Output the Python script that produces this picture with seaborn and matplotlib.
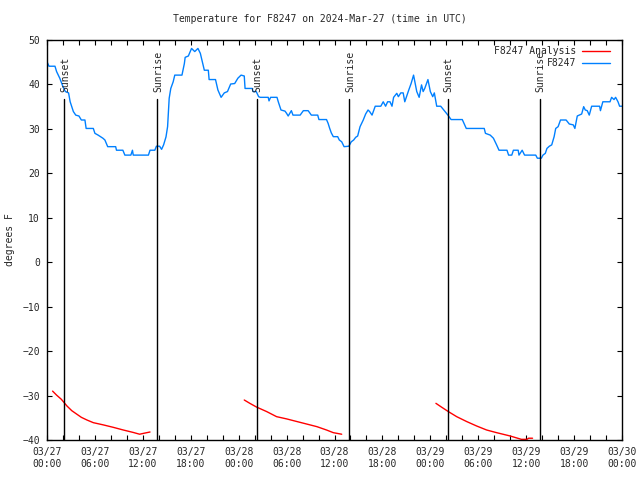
import numpy as np
import pandas as pd
import seaborn as sns
import matplotlib
matplotlib.use("Agg")
import matplotlib.pyplot as plt

# hours since 2024-03-27 00:00 UTC
obs_hours = [0, 0.25, 1.0, 1.2, 1.6, 2.0, 2.3, 2.7, 2.9, 3.3, 3.6, 4.0, 4.3, 4.75, 4.9, 5.8,
             6.0, 6.4, 7.0, 7.25, 7.6, 8.6, 8.7, 9.5, 9.75, 10.5, 10.7, 10.8, 12.7, 12.9,
             13.5, 13.7, 14.1, 14.35, 14.6, 14.9, 15.1, 15.3, 15.5, 15.8, 16.0, 16.9, 17.2,
             17.3, 17.7, 18.1, 18.5, 18.9, 19.2, 19.4, 19.7, 20.2, 20.3, 21.1, 21.4, 21.8,
             22.2, 22.6, 23.0, 23.5, 23.9, 24.3, 24.7, 24.8, 25.7, 25.8, 26.2, 26.5, 26.7,
             27.7, 27.8, 28.0, 28.8, 28.96, 29.3, 29.8, 30.0, 30.2, 30.4, 30.6, 30.8, 31.7,
             32.1, 32.7, 33.1, 33.9, 34.05, 35.0, 35.2, 35.4, 35.6, 35.85, 36.4, 36.6, 36.9,
             37.2, 37.8, 38.1, 38.4, 38.65, 38.9, 39.2, 39.4, 39.6, 39.9, 40.2, 40.4, 40.7,
             41.1, 41.8, 42.1, 42.4, 42.65, 42.95, 43.2, 43.4, 43.8, 44.0, 44.3, 44.6, 44.8,
             45.3, 45.6, 45.9, 46.1, 46.3, 46.6, 46.9, 47.1, 47.3, 47.7, 48.0, 48.3, 48.5,
             48.8, 49.3, 49.75, 50.2, 50.6, 52.0, 52.5, 54.75, 54.9, 55.5, 55.9, 56.3, 56.6,
             57.6, 57.8, 58.2, 58.4, 59.0, 59.1, 59.5, 59.8, 61.2, 61.4, 61.9, 62.1, 62.4,
             62.6, 62.9, 63.2, 63.5, 63.7, 64.0, 64.3, 65.0, 65.4, 65.9, 66.1, 66.4, 66.95,
             67.2, 67.4, 67.65, 67.9, 68.2, 69.2, 69.3, 69.6, 70.5, 70.7, 71.0, 71.2, 71.5,
             71.7, 72.0]
obs_temp = [45.1, 44.1, 44.1, 42.9, 41.4, 39.5, 38.4, 38.1, 36.1, 33.9, 33.1, 32.9, 32.0, 32.0,
            30.1, 30.1, 29.0, 28.6, 27.9, 27.5, 26.0, 26.0, 25.2, 25.2, 24.1, 24.1, 25.2, 24.1,
            24.1, 25.2, 25.2, 26.1, 26.1, 25.4, 26.4, 28.2, 30.5, 36.9, 39.1, 40.6, 42.1, 42.1,
            44.7, 46.1, 46.4, 48.1, 47.4, 48.1, 47.0, 45.5, 43.2, 43.2, 41.1, 41.1, 38.75, 37.1,
            38.1, 38.4, 40.1, 40.2, 41.4, 42.1, 41.9, 39.1, 39.1, 38.4, 38.4, 37.25, 37.1, 37.1,
            36.3, 37.1, 37.1, 36.1, 34.25, 34.0, 33.5, 32.9, 33.5, 34.1, 33.1, 33.1, 34.1, 34.1,
            33.1, 33.1, 32.1, 32.1, 31.25, 30.1, 29.1, 28.25, 28.25, 27.5, 27.1, 26.0, 26.1,
            27.1, 27.5, 28.1, 28.4, 30.5, 31.25, 32.0, 33.35, 34.25, 33.9, 33.1, 35.1, 35.1,
            36.1, 35.1, 36.1, 36.1, 35.1, 37.1, 38.0, 37.25, 38.1, 38.1, 36.1, 38.75, 40.25,
            42.1, 40.25, 38.4, 37.1, 39.9, 38.4, 39.1, 41.1, 38.4, 37.25, 38.1, 35.1, 35.1,
            34.1, 33.1, 32.1, 32.1, 30.1, 30.1, 29.0, 28.6, 27.9, 26.4, 25.2, 25.2, 24.1, 24.1,
            25.2, 25.2, 24.1, 25.2, 24.1, 24.1, 23.4, 23.4, 24.1, 24.5, 25.6, 26.1, 26.4, 28.25,
            30.1, 30.5, 32.0, 32.0, 31.1, 30.9, 30.1, 32.9, 33.35, 35.0, 34.25, 34.1, 33.1,
            35.1, 35.1, 34.1, 36.1, 36.1, 37.1, 36.6, 37.1, 36.1, 35.1, 35.1]

ana_hours = [0.7, 1.2, 1.8, 2.5, 3.1, 3.7, 4.3, 5.0, 5.8, 7.05, 8.3, 9.55, 10.8, 11.6, 12.1, 12.9,
             24.7, 25.4, 26.25, 27.5, 28.75, 30.0, 31.3, 32.5, 33.8, 35.0, 35.85, 36.9,
             48.7, 49.4, 50.25, 51.3, 52.55, 53.8, 55.05, 56.3, 58.0, 59.4, 60.1, 60.3, 60.8]
ana_temp = [-29.0, -29.9, -30.85, -32.35, -33.4, -34.15, -34.9, -35.5, -36.1, -36.6, -37.15,
            -37.75, -38.3, -38.7, -38.5, -38.2,
            -31.0, -31.75, -32.6, -33.6, -34.75, -35.25, -35.85, -36.4, -37.0, -37.75, -38.35, -38.7,
            -31.75, -32.6, -33.6, -34.75, -35.85, -36.85, -37.75, -38.35, -39.1, -39.85, -39.85,
            -39.6, -39.6]
ana_run = [1] * 16 + [2] * 12 + [3] * 13

sun_hours = [2.17, 13.8, 26.25, 37.85, 50.2, 61.7]
sun_labels = ["Sunset", "Sunrise", "Sunset", "Sunrise", "Sunset", "Sunrise"]

tick_hours = [0, 6, 12, 18, 24, 30, 36, 42, 48, 54, 60, 66, 72]
tick_labels = ["03/27\n00:00", "03/27\n06:00", "03/27\n12:00", "03/27\n18:00",
               "03/28\n00:00", "03/28\n06:00", "03/28\n12:00", "03/28\n18:00",
               "03/29\n00:00", "03/29\n06:00", "03/29\n12:00", "03/29\n18:00",
               "03/30\n00:00"]

sns.set_style("ticks")
plt.rcParams["font.family"] = ["DejaVu Sans Mono"]
plt.rcParams["font.size"] = 7

obs = pd.DataFrame({"hour": obs_hours, "temp": obs_temp})
ana = pd.DataFrame({"hour": ana_hours, "temp": ana_temp, "run": ana_run})

fig = plt.figure(figsize=(6.4, 4.8), dpi=100)
ax = fig.add_axes([47 / 640, 40 / 480, 575 / 640, 400 / 480])

sns.lineplot(data=ana, x="hour", y="temp", units="run", estimator=None, sort=False,
             color="#ff0000", lw=1.0, label="F8247 Analysis", ax=ax, legend=False)
sns.lineplot(data=obs, x="hour", y="temp", estimator=None, sort=False,
             color="#0080ff", lw=1.0, label="F8247", ax=ax, legend=False)

# sunrise / sunset markers
for h, lab in zip(sun_hours, sun_labels):
    ax.plot([h, h], [-40, 36.7], color="black", lw=1.0)
    ax.text(h + 0.1, 38.3, lab, rotation=90, ha="center", va="bottom", fontsize=7)

ax.set_xlim(0, 72)
ax.set_ylim(-40, 50)
ax.set_xticks(tick_hours)
ax.set_xticklabels(tick_labels)
ax.set_xticks(np.arange(0, 73, 2), minor=True)
ax.set_yticks(np.arange(-40, 51, 10))
ax.tick_params(which="both", direction="in", top=True, right=True, length=3.5,
               width=0.8, color="black", labelsize=7, pad=5)
for s in ax.spines.values():
    s.set_color("black")
    s.set_linewidth(1.0)

ax.set_xlabel("")
ax.set_ylabel("")
fig.text(10 / 640, 0.5, "degrees F", rotation=90, ha="center", va="center", fontsize=7)
fig.text(0.5, 1 - 19 / 480, "Temperature for F8247 on 2024-Mar-27 (time in UTC)",
         ha="center", va="center", fontsize=7)

handles, labels = ax.get_legend_handles_labels()
uniq = dict(zip(labels, handles))
ax.legend(list(uniq.values()), list(uniq.keys()), loc="upper right",
          bbox_to_anchor=(563 / 575, 1 - 6 / 400), frameon=False,
          markerfirst=False, handlelength=2.9, labelspacing=0.2, borderaxespad=0,
          borderpad=0, handletextpad=0.6, fontsize=7)

fig.savefig("out.png", dpi=100)
